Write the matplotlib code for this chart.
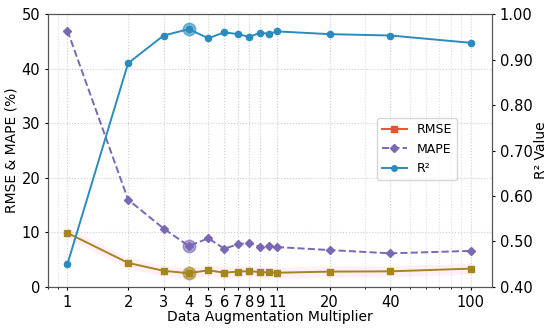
import matplotlib
matplotlib.use('Agg')
import matplotlib.pyplot as plt
from matplotlib.lines import Line2D

# data
mult = [1, 2, 3, 4, 5, 6, 7, 8, 9, 10, 11, 20, 40, 100]
rmse = [9.9, 4.4, 2.95, 2.5, 3.05, 2.6, 2.8, 2.9, 2.7, 2.65, 2.6, 2.8, 2.85, 3.35]
mape = [47.0, 16.0, 10.7, 7.5, 8.9, 7.0, 7.8, 8.1, 7.35, 7.5, 7.3, 6.75, 6.15, 6.6]
r2 = [0.450, 0.892, 0.953, 0.967, 0.947, 0.960, 0.956, 0.950, 0.959, 0.957, 0.962, 0.956, 0.953, 0.937]
xticks = [1, 2, 3, 4, 5, 6, 7, 8, 9, 11, 20, 40, 100]
best = 3  # index of x=4

c_rmse = '#e8542a'
c_rmse_line = '#a3861c'
c_mape = '#7a68b4'
c_r2 = '#2b8bbf'

fig, ax = plt.subplots(figsize=(5.5, 3.29), dpi=100)
ax2 = ax.twinx()

ax.fill_between(mult, [v - 1.0 for v in rmse], [v + 1.0 for v in rmse],
                color='#ff66cc', alpha=0.10, lw=0)
ax.plot(mult, rmse, color=c_rmse_line, marker='s', ms=4.5, lw=1.4)
ax.plot(mult, mape, color=c_mape, marker='D', ms=4.5, lw=1.4, ls='--')
ax.plot(mult[best], rmse[best], 'o', ms=9, mfc=c_rmse_line, mec=c_rmse_line, alpha=0.6)
ax.plot(mult[best], mape[best], 'o', ms=9, mfc=c_mape, mec=c_mape, alpha=0.6)

ax2.plot(mult, r2, color=c_r2, marker='o', ms=4.5, lw=1.4)
ax2.plot(mult[best], r2[best], 'o', ms=9, mfc=c_r2, mec=c_r2, alpha=0.6)

ax.set_xscale('log')
ax.set_xlim(0.80, 128)
ax.set_xticks(xticks)
ax.set_xticklabels([str(t) for t in xticks])
ax.minorticks_on()
ax.xaxis.set_minor_formatter(matplotlib.ticker.NullFormatter())
ax.yaxis.set_minor_locator(matplotlib.ticker.NullLocator())
ax.set_ylim(0, 50)
ax2.set_ylim(0.4, 1.0)
ax2.set_yticks([0.4, 0.5, 0.6, 0.7, 0.8, 0.9, 1.0])
ax2.set_yticklabels(['%.2f' % v for v in [0.4, 0.5, 0.6, 0.7, 0.8, 0.9, 1.0]])

ax.grid(True, which='major', ls=':', color='#cccccc', lw=0.8)
ax.grid(True, which='minor', axis='x', ls=':', color='#dddddd', lw=0.8)

ax.tick_params(labelsize=10.5, length=2.5, pad=3)
ax.tick_params(which='minor', length=1.5)
ax2.tick_params(labelsize=10.5, length=2.5, pad=3)
ax.set_xlabel('Data Augmentation Multiplier', fontsize=10, labelpad=0)
ax.set_ylabel('RMSE & MAPE (%)', fontsize=10, labelpad=2)
ax2.set_ylabel('R² Value', fontsize=10, labelpad=1)
for a in (ax, ax2):
    for s in a.spines.values():
        s.set_color('#555555')

handles = [
    Line2D([], [], color=c_rmse, marker='s', ms=4, lw=1.4),
    Line2D([], [], color=c_mape, marker='D', ms=4, lw=1.4, ls='--'),
    Line2D([], [], color=c_r2, marker='o', ms=4, lw=1.4),
]
ax2.legend(handles, ['RMSE', 'MAPE', 'R²'], loc='center right',
           bbox_to_anchor=(0.935, 0.505), fontsize=9)

plt.subplots_adjust(left=0.087, right=0.895, top=0.957, bottom=0.128)
plt.savefig('out.png', dpi=100)
